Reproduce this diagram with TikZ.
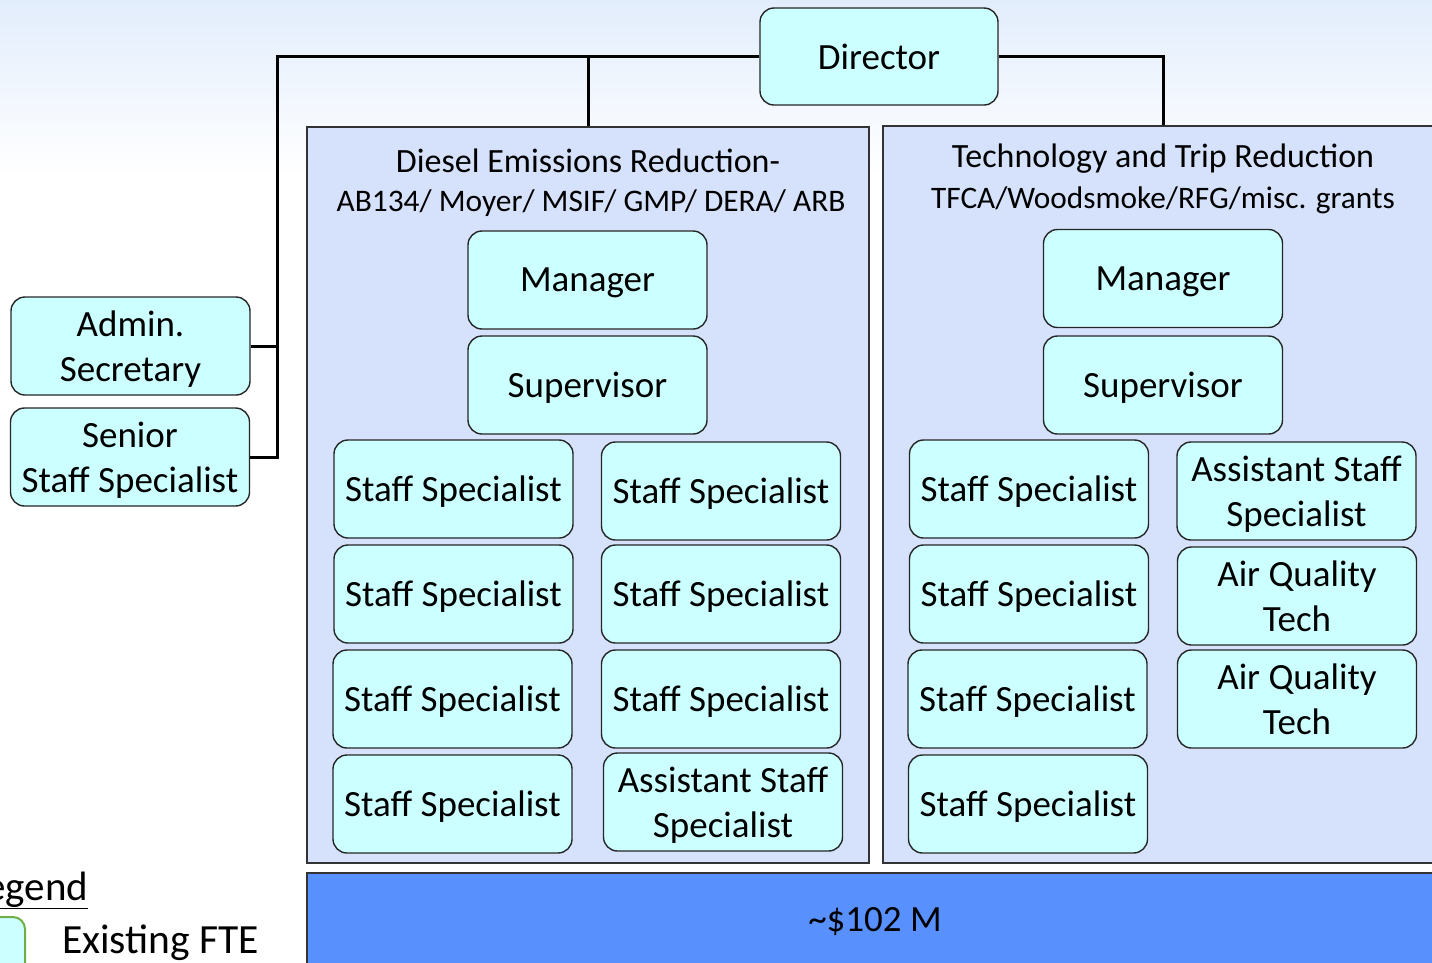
\documentclass[tikz,border=0pt]{standalone}
\usepackage{fontspec}
\setmainfont{Carlito}
\usepackage{tikz}
\usetikzlibrary{positioning}
\definecolor{boxcyan}{HTML}{CCFFFF}
\definecolor{panelblue}{HTML}{D6E2FC}
\definecolor{barblue}{HTML}{5890FE}
\definecolor{bgblue}{HTML}{E2EDFC}
\definecolor{legendgreen}{HTML}{6FAE45}
\tikzstyle{post}=[rectangle,rounded corners=14pt,draw=black!85,line width=1.4pt,fill=boxcyan,
  minimum width=239pt,minimum height=98pt,inner sep=0pt,align=center,text depth=0pt,
  font=\fontsize{37}{45}\selectfont]
\tikzstyle{panel}=[rectangle,draw=black!80,line width=1.6pt,fill=panelblue,inner sep=0pt]
\tikzstyle{conn}=[line width=3pt,black]
\begin{document}
\begin{tikzpicture}
  [x=1pt,y=-1pt]
\useasboundingbox (0,0) rectangle (1432,962);
\shade[top color=bgblue,bottom color=white] (0,0) rectangle (1432,175);
\node[post,minimum width=238pt,minimum height=97pt] (d) at (879,56.5) {Director};
\node[post] (adm) at (130.5,346) {Admin.\\Secretary};
\node[post] (sen) at (130,457) {Senior\\Staff Specialist};
\node[panel,minimum width=562pt,minimum height=736pt] (p1) at (588,495) {};
\node[panel,minimum width=560pt,minimum height=737pt] (p2) at (1163,494.5) {};
\node[panel,fill=barblue,minimum width=1136pt,minimum height=97pt,font=\fontsize{37}{45}\selectfont] (bar) at (875,921.5) {\textasciitilde\$102 M};
\coordinate (spine) at (277,457);
\draw[conn] (d.west) -| (spine) -- (sen.east);
\draw[conn] (adm.east) -- (adm.east -| spine);
\draw[conn] (d.west -| p1.north) -- (p1.north);
\draw[conn] (d.east) -| (p2.north);
\node[font=\fontsize{34}{40}\selectfont] (h1) at (588,161) {Diesel Emissions Reduction-};
\node[font=\fontsize{31.4}{36}\selectfont] (t1) at (591,203) {AB134/ Moyer/ MSIF/ GMP/ DERA/ ARB};
\node[font=\fontsize{34}{40}\selectfont] (h2) at (1163,159) {Technology and Trip Reduction};
\node[font=\fontsize{31.3}{36}\selectfont] (t2) at (1163,200) {TFCA/Woodsmoke/RFG/misc. grants};
\node[post] (m1) at (587.5,280) {Manager};
\node[post] (sv1) at (587.5,385) {Supervisor};
\node[post] (a1) at (453.5,489) {Staff Specialist};
\node[post] (a2) at (453.5,594) {Staff Specialist};
\node[post] (a3) at (452.5,699) {Staff Specialist};
\node[post] (a4) at (452.5,804) {Staff Specialist};
\node[post] (b1) at (721,491) {Staff Specialist};
\node[post] (b2) at (721,594) {Staff Specialist};
\node[post] (b3) at (721,699) {Staff Specialist};
\node[post] (b4) at (723,802) {Assistant Staff\\Specialist};
\node[post] (m2) at (1163,278.5) {Manager};
\node[post] (sv2) at (1163,385) {Supervisor};
\node[post] (c1) at (1029,489) {Staff Specialist};
\node[post] (c2) at (1029,594) {Staff Specialist};
\node[post] (c3) at (1027.5,699) {Staff Specialist};
\node[post] (c4) at (1028,804) {Staff Specialist};
\node[post] (e1) at (1296.5,491) {Assistant Staff\\Specialist};
\node[post] (e2) at (1297,596) {Air Quality\\Tech};
\node[post] (e3) at (1297,699) {Air Quality\\Tech};
\node[anchor=base west,inner sep=0pt,font=\fontsize{41}{48}\selectfont] (lg) at (-32,900) {\underline{Legend}};
\draw[line width=2pt,draw=legendgreen,fill=boxcyan,rounded corners=12pt] (-40,917) rectangle (25,990);
\node[anchor=base west,inner sep=0pt,font=\fontsize{41.5}{48}\selectfont] (fte) at (62,953) {Existing FTE};
\end{tikzpicture}
\end{document}
